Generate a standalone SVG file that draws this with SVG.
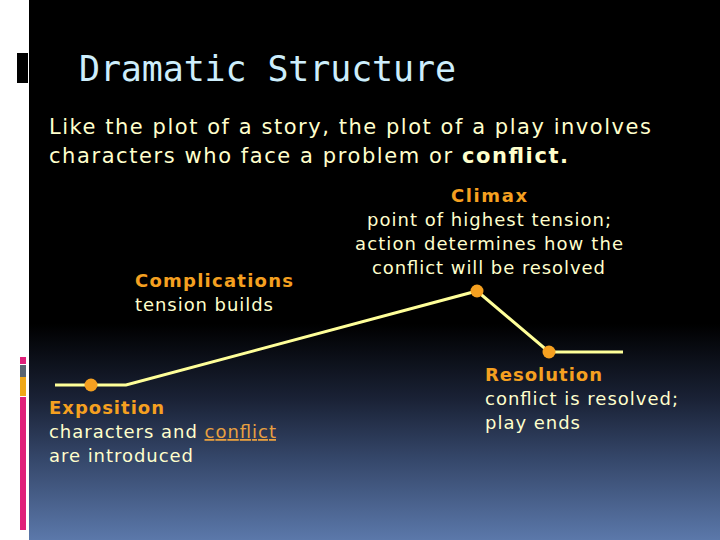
<svg xmlns="http://www.w3.org/2000/svg" width="720" height="540" viewBox="0 0 720 540">
<defs>
<linearGradient id="bg" x1="0" y1="0" x2="0" y2="540" gradientUnits="userSpaceOnUse">
<stop offset="0" stop-color="#000000"/>
<stop offset="0.6" stop-color="#000000"/>
<stop offset="0.74" stop-color="#1a2236"/>
<stop offset="0.85" stop-color="#35476a"/>
<stop offset="1" stop-color="#5b78aa"/>
</linearGradient>
<style>
.t{font-family:"DejaVu Sans",Verdana,sans-serif;fill:#ffffcc;font-size:18px}
.h{font-family:"DejaVu Sans",Verdana,sans-serif;fill:#f5a020;font-size:18px;font-weight:bold}
.b{font-family:"DejaVu Sans",Verdana,sans-serif;fill:#ffffcc;font-size:21px}
.title{font-family:"DejaVu Sans Mono","Liberation Mono",monospace;fill:#cdeefc;font-size:35px}
.dot{fill:#f5a020}
</style>
</defs>
<rect x="0" y="0" width="720" height="540" fill="#ffffff"/>
<rect x="29" y="0" width="691" height="540" fill="url(#bg)"/>
<rect x="17" y="53" width="11" height="30" fill="#000000"/>
<rect x="20" y="357" width="6" height="7" fill="#e0207a"/>
<rect x="20" y="365" width="6" height="12" fill="#5a6470"/>
<rect x="20" y="377" width="6" height="19" fill="#f0a818"/>
<rect x="20" y="397" width="6" height="133" fill="#e0207a"/>

<text class="title" x="79" y="81" textLength="377">Dramatic Structure</text>
<text class="b" x="49" y="134" textLength="602">Like the plot of a story, the plot of a play involves</text>
<text class="b" x="49" y="163" textLength="519">characters who face a problem or <tspan font-weight="bold">conflict.</tspan></text>

<g id="connectors">
<polyline points="55,385 126,385 477,291 549,352 623,352" fill="none" stroke="#ffff99" stroke-width="3"/>
</g>

<g id="exposition">
<circle class="dot" cx="91" cy="385" r="6.5"/>
<text class="h" x="49" y="414" textLength="115">Exposition</text>
<text class="t" x="49" y="438" textLength="227">characters and <tspan fill="#e8a040" text-decoration="underline">conflict</tspan></text>
<text class="t" x="49" y="462" textLength="144">are introduced</text>
</g>

<g id="complications">
<text class="h" x="135" y="287" textLength="158">Complications</text>
<text class="t" x="135" y="311" textLength="138">tension builds</text>
</g>

<g id="climax">
<circle class="dot" cx="477" cy="291" r="6.5"/>
<text class="h" x="451" y="202" textLength="76">Climax</text>
<text class="t" x="367" y="226" textLength="244">point of highest tension;</text>
<text class="t" x="355" y="250" textLength="268">action determines how the</text>
<text class="t" x="372" y="274" textLength="233">conflict will be resolved</text>
</g>

<g id="resolution">
<circle class="dot" cx="549" cy="352" r="6.5"/>
<text class="h" x="485" y="381" textLength="117">Resolution</text>
<text class="t" x="485" y="405" textLength="193">conflict is resolved;</text>
<text class="t" x="485" y="429" textLength="95">play ends</text>
</g>
</svg>
